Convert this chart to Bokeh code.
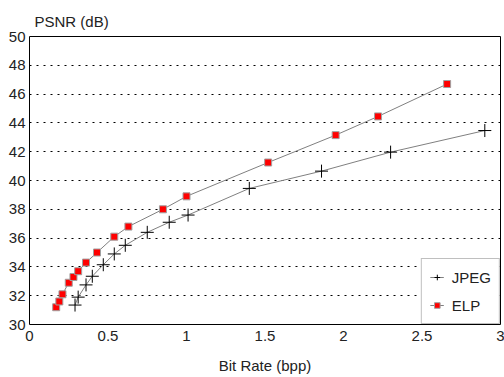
from bokeh.plotting import figure
from bokeh.models import Legend, LegendItem, Title, FixedTicker, Range1d
from bokeh.embed import file_html
from bokeh.resources import INLINE

# Data
elp_rate = [0.17, 0.19, 0.21, 0.25, 0.28, 0.31, 0.36, 0.43, 0.54, 0.63, 0.85, 1.00, 1.52, 1.95, 2.22, 2.66]
elp_psnr = [31.2, 31.6, 32.1, 32.9, 33.3, 33.7, 34.3, 35.0, 36.1, 36.8, 38.0, 38.9, 41.25, 43.15, 44.45, 46.7]

jpeg_rate = [0.29, 0.31, 0.36, 0.40, 0.47, 0.54, 0.61, 0.75, 0.89, 1.01, 1.40, 1.86, 2.30, 2.90]
jpeg_psnr = [31.35, 31.9, 32.75, 33.35, 34.15, 34.9, 35.5, 36.4, 37.1, 37.6, 39.45, 40.65, 41.97, 43.47]

x_ticks = [0, 0.5, 1, 1.5, 2, 2.5, 3]
y_ticks = [30, 32, 34, 36, 38, 40, 42, 44, 46, 48, 50]

FONT = "Liberation Sans"
FS = "15px"
TXT = "#222222"

p = figure(width=504, height=377, output_backend="svg", toolbar_location=None,
           x_range=Range1d(0, 3), y_range=Range1d(30, 50),
           min_border_left=29, min_border_right=4, min_border_top=36, min_border_bottom=53)

p.title = Title(text="PSNR (dB)", align="left", offset=5, text_font=FONT,
                text_font_size=FS, text_font_style="normal", text_color=TXT, standoff=14)

p.outline_line_color = "black"
p.outline_line_width = 1
p.background_fill_color = "white"
p.border_fill_color = "white"

p.xaxis.ticker = FixedTicker(ticks=x_ticks)
p.yaxis.ticker = FixedTicker(ticks=y_ticks)
p.xaxis.major_label_overrides = {0: "0", 0.5: "0.5", 1: "1", 1.5: "1.5", 2: "2", 2.5: "2.5", 3: "3"}
for ax in (p.xaxis, p.yaxis):
    ax.axis_line_color = None
    ax.major_tick_line_color = None
    ax.minor_tick_line_color = None
    ax.major_tick_out = 0
    ax.major_tick_in = 0
    ax.minor_tick_out = 0
    ax.minor_tick_in = 0
    ax.major_label_text_font = FONT
    ax.major_label_text_font_size = FS
    ax.major_label_text_color = TXT
p.xaxis.major_label_standoff = 6
p.yaxis.major_label_standoff = 4
p.xaxis.axis_label = "Bit Rate (bpp)"
p.xaxis.axis_label_text_font = FONT
p.xaxis.axis_label_text_font_size = FS
p.xaxis.axis_label_text_font_style = "normal"
p.xaxis.axis_label_text_color = TXT
p.xaxis.axis_label_standoff = 13

p.xgrid.grid_line_color = None
p.ygrid.grid_line_color = "black"
p.ygrid.grid_line_dash = "2 5"
p.ygrid.grid_line_width = 1

l_elp = p.line(elp_rate, elp_psnr, line_color="#808080", line_width=1)
s_elp = p.scatter(elp_rate, elp_psnr, marker="square", size=7, fill_color="#ff0000",
                  line_color="#a0a0a0", line_width=1)
l_jpeg = p.line(jpeg_rate, jpeg_psnr, line_color="#808080", line_width=1)
s_jpeg = p.scatter(jpeg_rate, jpeg_psnr, marker="cross", size=13, line_color="black",
                   line_width=1)

legend = Legend(items=[LegendItem(label="JPEG", renderers=[l_jpeg, s_jpeg]),
                       LegendItem(label="ELP", renderers=[l_elp, s_elp])],
                location="bottom_right", margin=0, padding=8, spacing=8,
                glyph_width=14, glyph_height=20, label_height=20, label_standoff=8,
                label_text_font=FONT, label_text_font_size=FS, label_text_color=TXT,
                border_line_color="#808080", border_line_width=1,
                background_fill_color="white", background_fill_alpha=1)
p.add_layout(legend, "center")

open("out.html", "w").write(file_html(p, INLINE))
